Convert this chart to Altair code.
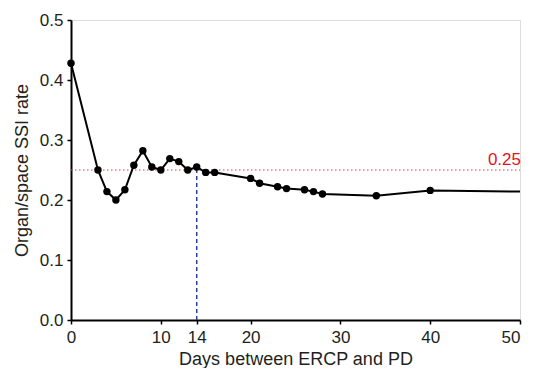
import altair as alt
import pandas as pd

days = [0, 3, 4, 5, 6, 7, 8, 9, 10, 11, 12, 13, 14, 15, 16, 20, 21, 23, 24, 26, 27, 28, 34, 40, 50]
rate = [0.428, 0.250, 0.214, 0.200, 0.217, 0.258, 0.282, 0.255, 0.250, 0.269, 0.264, 0.250, 0.255,
        0.246, 0.246, 0.236, 0.228, 0.222, 0.219, 0.217, 0.214, 0.210, 0.207, 0.216, 0.214]
has_marker = [True] * 24 + [False]
x_ticks = [0, 10, 14, 20, 30, 40, 50]
y_ticks = [0.0, 0.1, 0.2, 0.3, 0.4, 0.5]
threshold = 0.25
cutoff_day = 14
cutoff_rate = 0.255

df = pd.DataFrame({"day": days, "rate": rate, "marker": has_marker})
FONT = "Liberation Sans"
TXT = "#231f20"

xs = alt.Scale(domain=[0, 50], nice=False, zero=False)
ys = alt.Scale(domain=[0, 0.5], nice=False)

xax = alt.Axis(values=x_ticks, title="Days between ERCP and PD", grid=False, domain=True,
               domainColor="black", domainWidth=2, tickColor="black", tickWidth=1.5, tickSize=4,
               labelFont=FONT, labelFontSize=17, labelColor=TXT, titleFont=FONT,
               titleFontSize=18, titleFontWeight="normal", titleColor=TXT, labelPadding=5,
               titlePadding=5,
               labelAlign={"condition": {"test": "datum.value == 50", "value": "right"},
                           "value": "center"})
yax = alt.Axis(values=y_ticks, format=".1f", title="Organ/space SSI rate", grid=False,
               domainColor="black", domainWidth=2, tickColor="black", tickWidth=1.5, tickSize=4,
               labelFont=FONT, labelFontSize=17, labelColor=TXT, titleFont=FONT,
               titleFontSize=18, titleFontWeight="normal", titleColor=TXT, labelPadding=4,
               titlePadding=8)

thr_df = pd.DataFrame({"x": [0], "x2": [50], "y": [threshold], "label": ["0.25"]})
ref = alt.Chart(thr_df).mark_rule(color="#e8383d", strokeDash=[1.5, 2.5], strokeWidth=1.2).encode(
    x=alt.X("x:Q", scale=xs, axis=xax), x2="x2:Q", y=alt.Y("y:Q", scale=ys, axis=yax))
ref_text = alt.Chart(thr_df).mark_text(color="#e8101e", font=FONT, fontSize=17, align="right",
                                       baseline="alphabetic", dy=-5, dx=1).encode(
    x=alt.X("x2:Q", scale=xs), y=alt.Y("y:Q", scale=ys), text="label:N")

cut_df = pd.DataFrame({"x": [cutoff_day], "y": [0.0], "y2": [cutoff_rate]})
cut = alt.Chart(cut_df).mark_rule(color="#2b3f9a", strokeDash=[4, 3], strokeWidth=1.5).encode(
    x=alt.X("x:Q", scale=xs), y=alt.Y("y:Q", scale=ys), y2="y2:Q")

line = alt.Chart(df).mark_line(color="black", strokeWidth=2).encode(
    x=alt.X("day:Q", scale=xs), y=alt.Y("rate:Q", scale=ys))
pts = alt.Chart(df).transform_filter("datum.marker").mark_point(
    filled=True, color="black", size=55, opacity=1).encode(
    x=alt.X("day:Q", scale=xs), y=alt.Y("rate:Q", scale=ys))

chart = alt.layer(ref, cut, line, pts, ref_text).properties(
    width=449, height=300, autosize="none",
    padding={"left": 63, "top": 12, "right": 5, "bottom": 48},
).configure_view(stroke=None).configure(background="white")

chart.save("out.html", embed_options={"renderer": "svg", "actions": False})
